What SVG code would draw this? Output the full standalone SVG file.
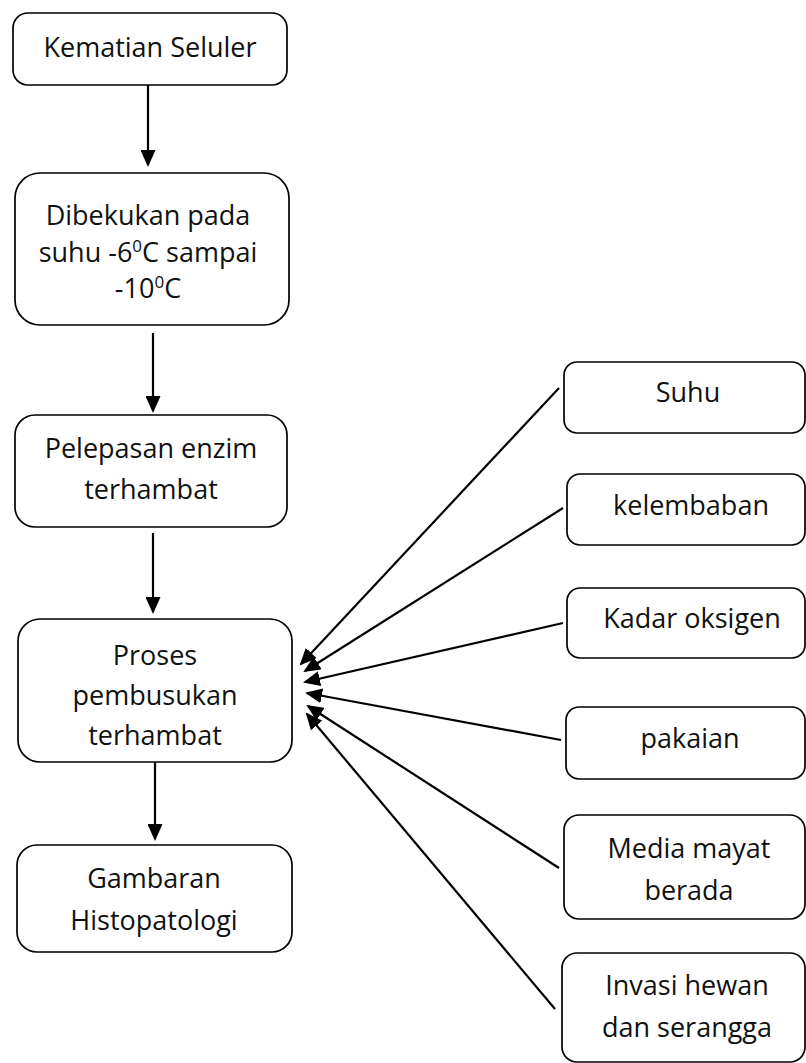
<svg xmlns="http://www.w3.org/2000/svg" width="806" height="1063" viewBox="0 0 806 1063">
<style>
.box{fill:#fff;stroke:#000;stroke-width:1.7}
.t{font-family:"Open Sans","Liberation Sans",sans-serif;font-size:27px;fill:#111;text-anchor:middle}
.c{stroke:#000;stroke-width:2.2;fill:none;marker-end:url(#ah)}
</style>
<defs>
<marker id="ah" markerUnits="userSpaceOnUse" markerWidth="17" markerHeight="15" viewBox="0 0 17 15" refX="15" refY="7.5" orient="auto">
<path d="M0,0 L17,7.5 L0,15 z" fill="#000"/>
</marker>
</defs>
<rect width="806" height="1063" fill="#fff"/>
<g id="connectors">
<line class="c" x1="148" y1="85" x2="148" y2="165"/>
<line class="c" x1="153" y1="333" x2="153" y2="411"/>
<line class="c" x1="153" y1="533" x2="153" y2="612"/>
<line class="c" x1="155" y1="762" x2="155" y2="839"/>
<line class="c" x1="559" y1="388" x2="301" y2="664"/>
<line class="c" x1="563" y1="508" x2="305" y2="671"/>
<line class="c" x1="563" y1="623" x2="305" y2="682"/>
<line class="c" x1="561" y1="740" x2="307" y2="693"/>
<line class="c" x1="559" y1="868" x2="308" y2="706"/>
<line class="c" x1="555" y1="1009" x2="307" y2="714"/>
</g>
<g id="n1"><rect class="box" x="13" y="13" width="274" height="72" rx="15"/><text class="t" x="150" y="57">Kematian Seluler</text></g>
<g id="n2"><rect class="box" x="15" y="173" width="274" height="152" rx="25"/>
<text class="t" x="148" y="225">Dibekukan pada</text>
<text class="t" x="148" y="262">suhu -6<tspan font-size="17" dy="-10">0</tspan><tspan dy="10">C sampai</tspan></text>
<text class="t" x="148" y="298">-10<tspan font-size="17" dy="-10">0</tspan><tspan dy="10">C</tspan></text></g>
<g id="n3"><rect class="box" x="15" y="415" width="272" height="112" rx="20"/>
<text class="t" x="151" y="458">Pelepasan enzim</text>
<text class="t" x="151" y="499">terhambat</text></g>
<g id="n4"><rect class="box" x="18" y="619" width="274" height="143" rx="22"/>
<text class="t" x="155" y="665">Proses</text>
<text class="t" x="155" y="705">pembusukan</text>
<text class="t" x="155" y="745">terhambat</text></g>
<g id="n5"><rect class="box" x="17" y="845" width="275" height="107" rx="20"/>
<text class="t" x="154" y="888">Gambaran</text>
<text class="t" x="154" y="930">Histopatologi</text></g>
<g id="r1"><rect class="box" x="564" y="362" width="241" height="71" rx="13"/><text class="t" x="688" y="402">Suhu</text></g>
<g id="r2"><rect class="box" x="567" y="474" width="238" height="71" rx="13"/><text class="t" x="691" y="515">kelembaban</text></g>
<g id="r3"><rect class="box" x="567" y="588" width="238" height="70" rx="13"/><text class="t" x="692" y="628">Kadar oksigen</text></g>
<g id="r4"><rect class="box" x="566" y="707" width="239" height="72" rx="13"/><text class="t" x="690" y="748">pakaian</text></g>
<g id="r5"><rect class="box" x="564" y="815" width="241" height="104" rx="15"/>
<text class="t" x="689" y="858">Media mayat</text>
<text class="t" x="689" y="900">berada</text></g>
<g id="r6"><rect class="box" x="562" y="953" width="243" height="109" rx="15"/>
<text class="t" x="687" y="995">Invasi hewan</text>
<text class="t" x="687" y="1037">dan serangga</text></g>
</svg>
